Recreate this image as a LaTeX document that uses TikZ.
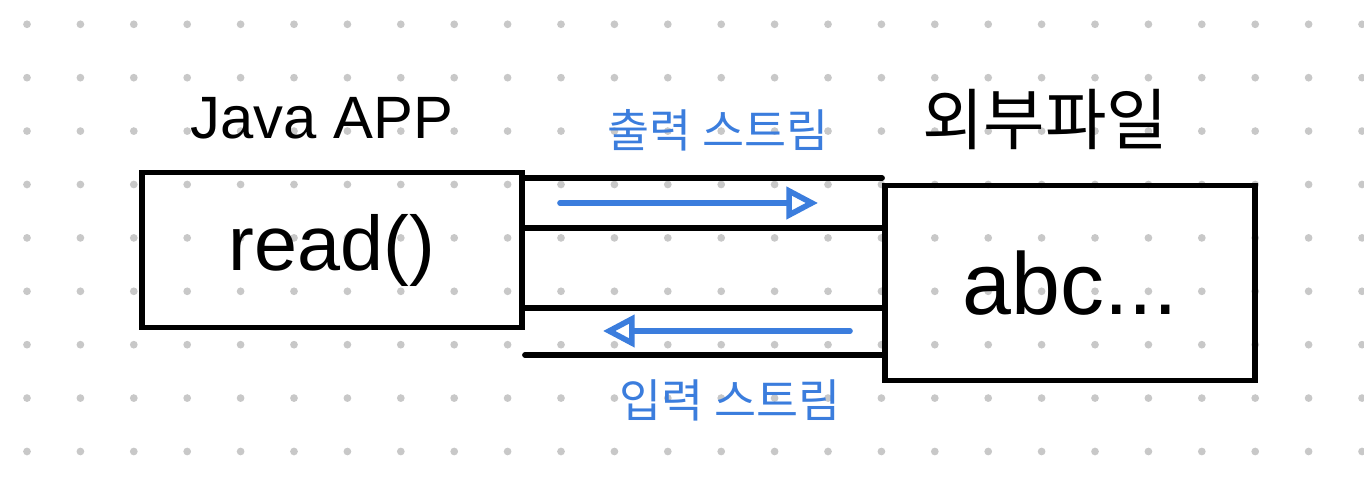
\documentclass[tikz,border=0pt]{standalone}
\usepackage{fontspec}
\setmainfont{Liberation Sans}
\newfontfamily\kofont{Noto Sans CJK KR}
\usepackage{tikz}
\usetikzlibrary{arrows.meta, positioning}

\definecolor{penblue}{HTML}{3B7DDD}
\definecolor{dotgray}{HTML}{C8C8C8}

\begin{document}
\begin{tikzpicture}[
  x=0.01cm, y=-0.01cm,
  box/.style={rectangle, draw=black, line width=1.6pt, inner sep=0pt},
  pipe/.style={draw=black, line width=1.6pt, line cap=round},
  flow/.style={draw=penblue, line width=1.6pt, line cap=round,
               -{Triangle[open, length=9pt, width=9pt]}},
  lbl/.style={font=\fontsize{20}{22}\selectfont},
  kolbl/.style={font=\kofont\fontsize{13}{15}\selectfont}
]
\useasboundingbox (0,0) rectangle (1364,495);

% dot grid
\foreach \i in {0,...,25} {
  \foreach \j in {0,...,8} {
    \pgfmathsetmacro{\x}{27 + \i * 53.4}
    \pgfmathsetmacro{\y}{24.3 + \j * 53.4}
    \fill[dotgray] (\x, \y) circle (1.1pt);
  }
}

% program side
\node[box, minimum width=3.8cm, minimum height=1.55cm, lbl,
      font=\fontsize{22}{24}\selectfont] (app) at (332,250) {read()};
\node[lbl, font=\fontsize{17}{19}\selectfont] (appname) at (322,118) {Java APP};

% file side
\node[box, minimum width=3.7cm, minimum height=1.95cm, lbl,
      font=\fontsize{25}{27}\selectfont] (file) at (1070,283) {abc...};
\node[kolbl, font=\kofont\fontsize{19}{21}\selectfont] (filename) at (1045,120) {외부파일};

% output pipe
\coordinate (outtopL) at (app.east |- 0,178);
\coordinate (outtopR) at (file.west |- 0,178);
\coordinate (outbotL) at (app.east |- 0,228);
\coordinate (outbotR) at (file.west |- 0,228);
\draw[pipe] (outtopL) -- (outtopR);
\draw[pipe] (outbotL) -- (outbotR);

% input pipe
\coordinate (intopL) at (app.east |- 0,308);
\coordinate (intopR) at (file.west |- 0,308);
\coordinate (inbotL) at (app.east |- 0,355);
\coordinate (inbotR) at (file.west |- 0,355);
\draw[pipe] (intopL) -- (intopR);
\draw[pipe] (inbotL) -- (inbotR);

% stream arrows
\coordinate (outA) at (560,203);
\coordinate (outB) at (818,203);
\coordinate (inA) at (850,331);
\coordinate (inB) at (603,331);
\draw[flow] (outA) -- (outB);
\draw[flow] (inA) -- (inB);

\node[kolbl, text=penblue] (outname) at (718,130) {출력 스트림};
\node[kolbl, text=penblue] (inname) at (730,400) {입력 스트림};
\end{tikzpicture}
\end{document}
